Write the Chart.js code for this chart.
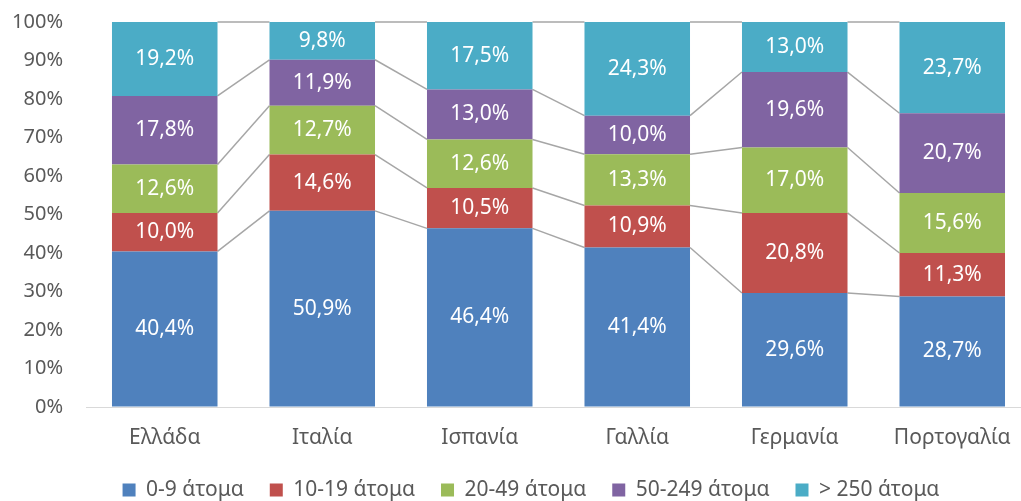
<!DOCTYPE html>
<html>
<head>
<meta charset="utf-8">
<script src="https://cdn.jsdelivr.net/npm/chart.js@4.4.1/dist/chart.umd.min.js"></script>
<style>
html,body{margin:0;padding:0;background:#fff;overflow:hidden;}
#wrap{width:1021px;height:501px;position:relative;overflow:hidden;}
</style>
</head>
<body>
<div id="wrap"><canvas id="c" width="1045" height="501"></canvas></div>
<script>
const categories = ["Ελλάδα", "Ιταλία", "Ισπανία", "Γαλλία", "Γερμανία", "Πορτογαλία"];
const seriesNames = ["0-9 άτομα", "10-19 άτομα", "20-49 άτομα", "50-249 άτομα", "> 250 άτομα"];
const s0_9     = [40.4, 50.9, 46.4, 41.4, 29.6, 28.7];
const s10_19   = [10.0, 14.6, 10.5, 10.9, 20.8, 11.3];
const s20_49   = [12.6, 12.7, 12.6, 13.3, 17.0, 15.6];
const s50_249  = [17.8, 11.9, 13.0, 10.0, 19.6, 20.7];
const s250     = [19.2,  9.8, 17.5, 24.3, 13.0, 23.7];
const yTicks = [0,10,20,30,40,50,60,70,80,90,100];
const colors = ["#4F81BD", "#C0504D", "#9BBB59", "#8064A2", "#4BACC6"];

const raw = [s0_9, s10_19, s20_49, s50_249, s250];
const totals = categories.map((_, i) => raw.reduce((a, s) => a + s[i], 0));
const norm = raw.map(s => s.map((v, i) => v / totals[i] * 100));

const FONT = "'Noto Sans', 'Open Sans', sans-serif";

// layout targets (pixels)
const TARGET_TOP = 22, TARGET_BOTTOM = 407, TARGET_LEGEND_Y = 490, TARGET_LEGEND_X = 531;
let padTop = 10, padBottom = 0, xAxisH = 40, legendDX = 0;

const seriesLines = {
  id: 'seriesLines',
  beforeDatasetsDraw(chart) {
    const ctx = chart.ctx;
    ctx.save();
    ctx.strokeStyle = '#A6A6A6';
    ctx.lineWidth = 1.5;
    chart.data.datasets.forEach((ds, k) => {
      const meta = chart.getDatasetMeta(k);
      for (let i = 0; i < meta.data.length - 1; i++) {
        const a = meta.data[i], b = meta.data[i + 1];
        ctx.beginPath();
        ctx.moveTo(a.x + a.width / 2, a.y);
        ctx.lineTo(b.x - b.width / 2, b.y);
        ctx.stroke();
      }
    });
    ctx.restore();
  }
};

const dataLabels = {
  id: 'dataLabels',
  afterDatasetsDraw(chart) {
    const ctx = chart.ctx;
    ctx.save();
    ctx.fillStyle = '#FFFFFF';
    ctx.font = "21px " + FONT;
    ctx.textAlign = 'center';
    ctx.textBaseline = 'middle';
    chart.data.datasets.forEach((ds, k) => {
      const meta = chart.getDatasetMeta(k);
      meta.data.forEach((el, i) => {
        const txt = raw[k][i].toFixed(1).replace('.', ',') + '%';
        ctx.fillText(txt, el.x, (el.y + el.base) / 2);
      });
    });
    ctx.restore();
  }
};

const legendShift = {
  id: 'legendShift',
  afterLayout(chart) {
    if (chart.legend) { chart.legend.left += legendDX; chart.legend.right += legendDX; }
  }
};

const chart = new Chart(document.getElementById('c'), {
  type: 'bar',
  data: {
    labels: categories,
    datasets: seriesNames.map((n, k) => ({
      label: n,
      data: norm[k],
      backgroundColor: colors[k],
      borderWidth: 0,
      barPercentage: 0.67,
      categoryPercentage: 1.0
    }))
  },
  options: {
    responsive: false,
    animation: false,
    devicePixelRatio: 1,
    layout: { padding: { top: padTop, left: 0, right: 14, bottom: padBottom } },
    plugins: {
      tooltip: { enabled: false },
      legend: {
        position: 'bottom',
        labels: {
          boxWidth: 13, boxHeight: 13,
          color: '#595959',
          font: { size: 21, family: FONT },
          padding: 26
        }
      }
    },
    scales: {
      x: {
        stacked: true,
        afterFit(scale) { scale.height = xAxisH; },
        grid: { display: false, drawTicks: false },
        border: { display: true, color: '#D9D9D9', width: 1 },
        ticks: { color: '#595959', font: { size: 21, family: FONT }, padding: 18, maxRotation: 0 }
      },
      y: {
        stacked: true,
        min: 0, max: 100,
        afterFit(scale) { scale.width = 86; },
        afterBuildTicks(scale) { scale.ticks = yTicks.map(v => ({ value: v })); },
        grid: { display: true, drawOnChartArea: false, drawTicks: true, tickLength: 23,
                color: 'rgba(0,0,0,0)', tickColor: 'rgba(0,0,0,0)' },
        border: { display: false },
        ticks: { color: '#595959', font: { size: 20, family: FONT }, padding: 0,
                 callback: v => v + '%' }
      }
    }
  },
  plugins: [seriesLines, dataLabels, legendShift]
});

// settle the layout so the plot area and legend land where the reference has them
for (let it = 0; it < 6; it++) {
  const ca = chart.chartArea;
  const hbs = chart.legend.legendHitBoxes;
  const first = hbs[0], last = hbs[hbs.length - 1];
  const ly = first.top + first.height / 2;
  const lx = (first.left + last.left + last.width) / 2;
  padBottom += ly - TARGET_LEGEND_Y;
  padTop += TARGET_TOP - ca.top;
  xAxisH += ca.bottom - TARGET_BOTTOM;
  legendDX += TARGET_LEGEND_X - lx;
  chart.options.layout.padding = { top: padTop, left: 0, right: 14, bottom: padBottom };
  chart.update();
}
</script>
</body>
</html>
